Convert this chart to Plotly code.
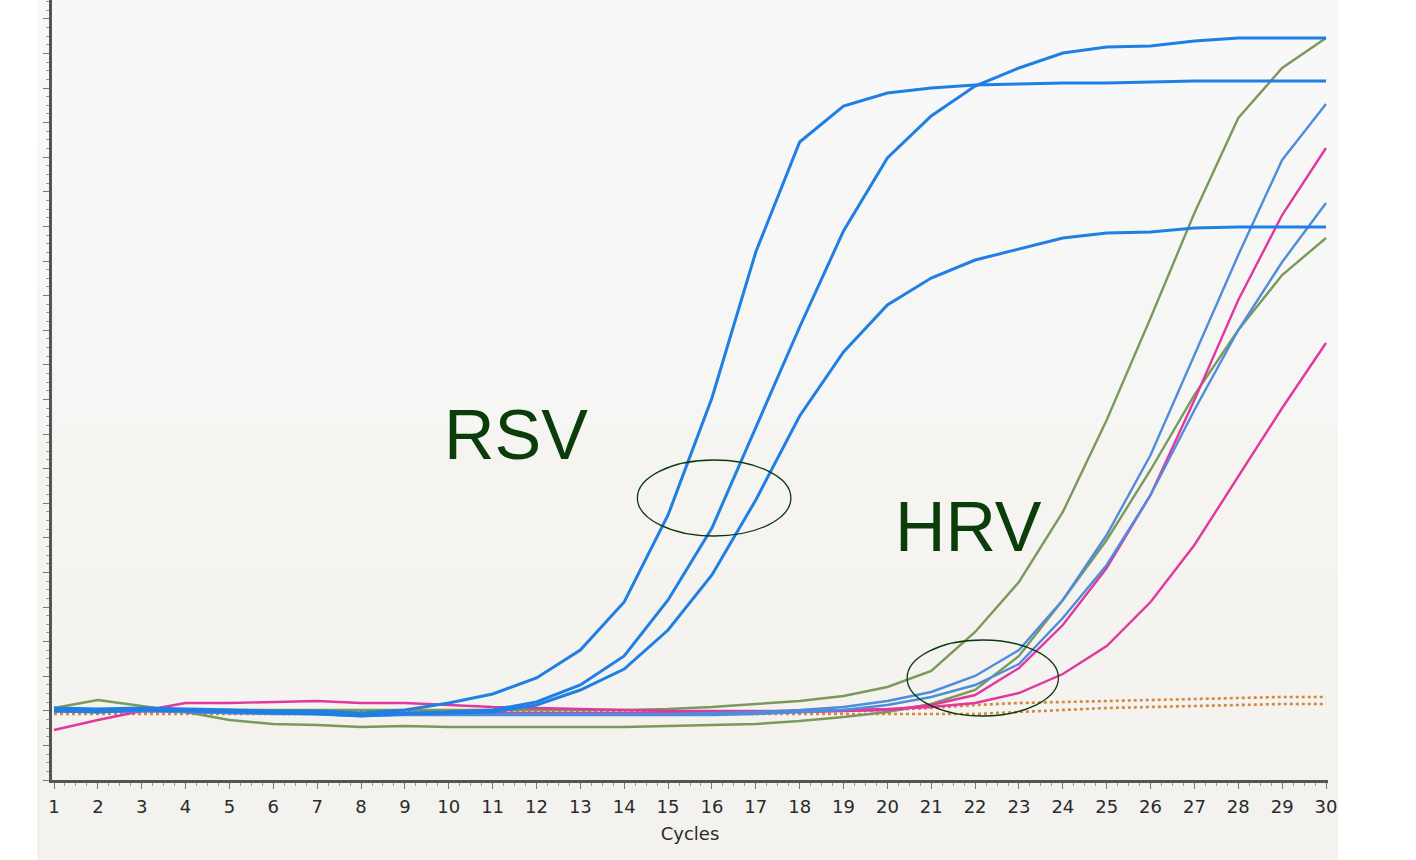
import plotly.graph_objects as go

cycles = list(range(1, 31))
tick_labels = [str(c) for c in cycles]

# Fluorescence (arbitrary units)
rsv_a = [72, 71, 72, 71, 70, 69, 69, 67, 70, 77, 86, 102, 130, 178, 265,
         382, 528, 638, 674, 687, 692, 695, 696, 697, 697, 698, 699, 699, 699, 699]
rsv_b = [70, 69, 71, 70, 69, 68, 67, 65, 67, 68, 70, 78, 95, 124, 180,
         252, 352, 453, 549, 622, 664, 694, 712, 727, 733, 734, 739, 742, 742, 742]
rsv_c = [69, 68, 70, 69, 68, 67, 66, 64, 66, 67, 68, 75, 90, 111, 150,
         205, 280, 364, 428, 475, 502, 520, 531, 542, 547, 548, 552, 553, 553, 553]
hrv_blue1 = [70, 69, 70, 69, 68, 68, 67, 65, 66, 66, 66, 66, 66, 66, 66,
             67, 68, 70, 73, 79, 88, 104, 130, 180, 245, 325, 425, 525, 620, 676]
hrv_blue2 = [69, 68, 69, 68, 67, 66, 66, 64, 65, 65, 65, 65, 65, 65, 65,
             65, 66, 68, 70, 75, 83, 95, 116, 162, 215, 285, 370, 450, 518, 577]
hrv_green1 = [71, 70, 71, 70, 70, 70, 70, 70, 70, 70, 70, 70, 70, 70, 71,
              73, 76, 79, 84, 93, 109, 148, 198, 268, 360, 462, 567, 662, 712, 742]
hrv_green2 = [72, 80, 74, 68, 60, 56, 55, 53, 54, 53, 53, 53, 53, 53, 54,
              55, 56, 59, 63, 68, 76, 90, 124, 180, 240, 310, 385, 450, 505, 542]
hrv_pink1 = [69, 68, 69, 68, 67, 67, 67, 66, 67, 67, 67, 67, 67, 67, 67,
             67, 67, 68, 69, 70, 75, 85, 112, 155, 212, 285, 380, 480, 565, 632]
hrv_pink2 = [50, 60, 69, 77, 77, 78, 79, 77, 77, 75, 73, 72, 71, 70, 69,
             69, 69, 69, 70, 71, 73, 77, 87, 106, 134, 178, 235, 304, 372, 437]
neg_1 = [68, 68, 68, 68, 68, 68, 68, 68, 68, 68, 68, 68, 68, 68, 68,
         68, 68, 68, 69, 70, 72, 75, 77, 78, 79, 80, 81, 82, 83, 83]
neg_2 = [66, 66, 66, 66, 66, 66, 66, 66, 66, 66, 66, 66, 66, 66, 66,
         66, 66, 66, 66, 66, 66, 66, 68, 70, 72, 73, 74, 75, 76, 76]

RSV_BLUE = "#1f7fe3"
HRV_BLUE = "#4d8ddc"
GREEN = "#7a9a5c"
PINK = "#e2379f"
ORANGE = "#d3893c"

fig = go.Figure()

def add(y, color, width, dash="solid"):
    fig.add_trace(go.Scatter(x=cycles, y=y, mode="lines",
                             line=dict(color=color, width=width, dash=dash),
                             showlegend=False, hoverinfo="skip"))

add(neg_1, ORANGE, 2.6, "dot")
add(neg_2, ORANGE, 2.6, "dot")
add(hrv_green2, GREEN, 2.4)
add(hrv_green1, GREEN, 2.4)
add(hrv_pink2, PINK, 2.4)
add(hrv_pink1, PINK, 2.4)
add(hrv_blue2, HRV_BLUE, 2.4)
add(hrv_blue1, HRV_BLUE, 2.4)
add(rsv_c, RSV_BLUE, 3)
add(rsv_b, RSV_BLUE, 3)
add(rsv_a, RSV_BLUE, 3)

W, H = 1416, 860
L, R, T, B = 52, 88, 0, 80
pw, ph = W - L - R, H - T - B

# grey backdrop of the original screenshot (soft vertical gradient)
band_colors = ["#f8f8f8", "#f7f7f6", "#f6f6f4", "#f5f4f1", "#f4f3ef", "#f3f2ee"]
shapes = []
n = len(band_colors)
for i, col in enumerate(band_colors):
    top_px = i * 860 / n
    bot_px = 860 if i == n - 1 else (i + 1) * 860 / n + 1
    shapes.append(dict(type="rect", xref="paper", yref="paper", layer="below",
                       x0=(37 - L) / pw, x1=(1338 - L) / pw,
                       y0=(ph - bot_px) / ph, y1=(ph - top_px) / ph,
                       fillcolor=col, line=dict(width=0)))
shapes += [
    # annotation ellipses
    dict(type="circle", xref="x", yref="y", x0=14.3, x1=17.8, y0=244, y1=320,
         line=dict(color="#0b3a0b", width=1.3)),
    dict(type="circle", xref="x", yref="y", x0=20.45, x1=23.9, y0=64, y1=140,
         line=dict(color="#0b3a0b", width=1.3)),
]

annotations = [
    dict(x=11.53, y=345, xref="x", yref="y", text="RSV", showarrow=False,
         font=dict(family="Liberation Sans, Arial, sans-serif", size=70, color="#0b3d0b")),
    dict(x=21.84, y=253, xref="x", yref="y", text="HRV", showarrow=False,
         font=dict(family="Liberation Sans, Arial, sans-serif", size=70, color="#0b3d0b")),
]

fig.update_layout(
    width=W, height=H,
    margin=dict(l=L, r=R, t=T, b=B),
    paper_bgcolor="white",
    plot_bgcolor="rgba(0,0,0,0)",
    shapes=shapes,
    annotations=annotations,
    xaxis=dict(
        range=[1 - 2 / 43.86, 30 + 2 / 43.86],
        tickmode="array", tickvals=cycles, ticktext=tick_labels,
        ticks="outside", ticklen=6, tickcolor="#777", tickwidth=1,
        minor=dict(dtick=0.25, tick0=1, ticks="outside", ticklen=3, tickcolor="#999", showgrid=False),
        showline=True, linecolor="#555", linewidth=3,
        showgrid=False, zeroline=False,
        ticklabelstandoff=2,
        tickfont=dict(family="DejaVu Sans, Verdana, sans-serif", size=18, color="#2a2a2a"),
        title=dict(text="Cycles", font=dict(family="DejaVu Sans, Verdana, sans-serif", size=18, color="#2a2a2a"),
                   standoff=12),
    ),
    yaxis=dict(
        range=[0, 780],
        tickmode="linear", tick0=0, dtick=34.6,
        showticklabels=False,
        ticks="outside", ticklen=6, tickcolor="#777", tickwidth=1,
        minor=dict(dtick=8.65, tick0=0, ticks="outside", ticklen=3, tickcolor="#999", showgrid=False),
        showline=True, linecolor="#555", linewidth=3,
        showgrid=False, zeroline=False,
    ),
)

fig.write_html("out.html")
